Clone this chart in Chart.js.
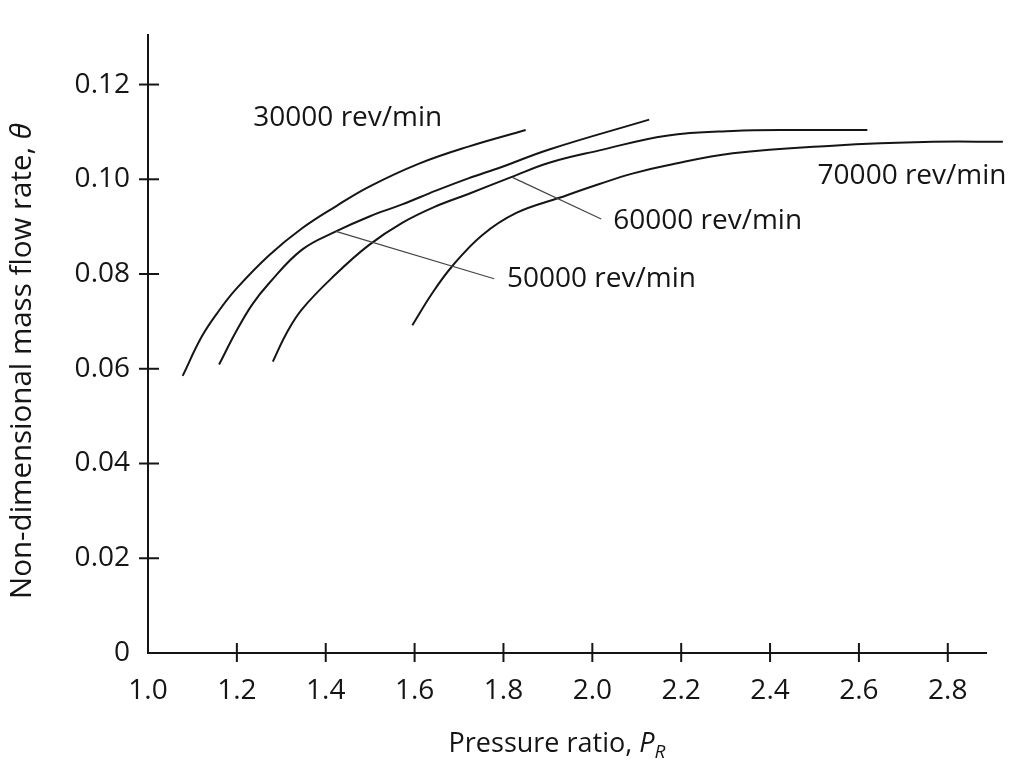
<!DOCTYPE html>
<html lang="en">
<head>
<meta charset="UTF-8">
<title>Non-dimensional mass flow rate vs pressure ratio</title>
<script src="https://cdn.jsdelivr.net/npm/chart.js"></script>
<style>
  html, body { margin: 0; padding: 0; background: #fff; }
  #wrap { width: 1012px; height: 763px; }
</style>
</head>
<body>
<div id="wrap"><canvas id="chart"></canvas></div>
<script>
// axis ticks
const xTicks = [1.0, 1.2, 1.4, 1.6, 1.8, 2.0, 2.2, 2.4, 2.6, 2.8];
const yTicks = [0, 0.02, 0.04, 0.06, 0.08, 0.10, 0.12];

// pressure ratio / mass flow pairs
const pr30 = [1.078, 1.121, 1.160, 1.198, 1.272, 1.346, 1.423, 1.497, 1.610, 1.721, 1.850];
const mf30 = [0.0585, 0.0668, 0.0723, 0.0768, 0.0839, 0.0896, 0.0943, 0.0984, 0.1033, 0.1069, 0.1104];

const pr50 = [1.160, 1.198, 1.234, 1.272, 1.346, 1.423, 1.497, 1.572, 1.648, 1.721, 1.796, 1.903, 2.128];
const mf50 = [0.0609, 0.0678, 0.0735, 0.0780, 0.0851, 0.0890, 0.0921, 0.0947, 0.0976, 0.1002, 0.1026, 0.1063, 0.1126];

const pr60 = [1.281, 1.310, 1.346, 1.423, 1.497, 1.572, 1.648, 1.721, 1.816, 1.903, 2.016, 2.167, 2.316, 2.466, 2.619];
const mf60 = [0.0615, 0.0672, 0.0725, 0.0800, 0.0861, 0.0908, 0.0943, 0.0969, 0.1004, 0.1035, 0.1061, 0.1092, 0.1102, 0.1104, 0.1104];

const pr70 = [1.595, 1.640, 1.685, 1.752, 1.829, 1.926, 2.016, 2.090, 2.167, 2.316, 2.541, 2.766, 2.924];
const mf70 = [0.0692, 0.0760, 0.0817, 0.0882, 0.0929, 0.0961, 0.0990, 0.1012, 0.1029, 0.1055, 0.1071, 0.1079, 0.1079];

// curve labels (left edge, middle) and leader lines, in data units
const curveLabels = [
  { text: '30000 rev/min', x: 1.237, y: 0.1130 },
  { text: '70000 rev/min', x: 2.507, y: 0.1006 },
  { text: '60000 rev/min', x: 2.047, y: 0.0912 },
  { text: '50000 rev/min', x: 1.808, y: 0.0790 }
];
const leaders = [
  { x1: 1.820, y1: 0.1004, x2: 2.020, y2: 0.0916 },
  { x1: 1.423, y1: 0.0890, x2: 1.779, y2: 0.0790 }
];

const ink = '#151515';
const family = '"Open Sans", sans-serif';
const fontSize = 28;

function series(xs, ys) {
  return xs.map((x, i) => ({ x: x, y: ys[i] }));
}
function curve(label, xs, ys) {
  return {
    label: label,
    data: series(xs, ys),
    borderColor: ink,
    borderWidth: 2,
    pointRadius: 0,
    fill: false,
    tension: 0.4,
    clip: false
  };
}

const decor = {
  id: 'decor',
  afterDraw(chart) {
    const c = chart.ctx;
    const xs = chart.scales.x, ys = chart.scales.y;
    const area = chart.chartArea;
    c.save();
    c.strokeStyle = ink;
    c.lineWidth = 2;
    // tick marks crossing the axes
    xTicks.slice(1).forEach(v => {
      const px = xs.getPixelForValue(v);
      c.beginPath(); c.moveTo(px, area.bottom - 10); c.lineTo(px, area.bottom + 9); c.stroke();
    });
    yTicks.slice(1).forEach(v => {
      const py = ys.getPixelForValue(v);
      c.beginPath(); c.moveTo(area.left - 9, py); c.lineTo(area.left + 11, py); c.stroke();
    });
    // leader lines
    c.strokeStyle = '#444';
    c.lineWidth = 1.2;
    leaders.forEach(l => {
      c.beginPath();
      c.moveTo(xs.getPixelForValue(l.x1), ys.getPixelForValue(l.y1));
      c.lineTo(xs.getPixelForValue(l.x2), ys.getPixelForValue(l.y2));
      c.stroke();
    });
    // curve labels
    c.fillStyle = ink;
    c.font = fontSize + 'px ' + family;
    c.textAlign = 'left';
    c.textBaseline = 'middle';
    curveLabels.forEach(t => {
      c.fillText(t.text, xs.getPixelForValue(t.x), ys.getPixelForValue(t.y));
    });
    // x title: Pressure ratio, P_R
    c.textBaseline = 'alphabetic';
    const plain = 'Pressure ratio, ';
    const regular = '27px ' + family;
    const italic = 'italic 27px ' + family;
    const subFont = 'italic 19px ' + family;
    c.font = regular; const w1 = c.measureText(plain).width;
    c.font = italic; const w2 = c.measureText('P').width;
    c.font = subFont; const w3 = c.measureText('R').width;
    let tx = (area.left + area.right) / 2 - 10 - (w1 + w2 + w3) / 2;
    const tb = 752;
    c.font = regular; c.fillText(plain, tx, tb); tx += w1;
    c.font = italic; c.fillText('P', tx, tb); tx += w2;
    c.font = subFont; c.fillText('R', tx, tb + 6);
    // y title, rotated
    const ytext = 'Non-dimensional mass flow rate, ';
    const yFont = '29.5px ' + family;
    const yItalic = 'italic 29.5px ' + family;
    c.font = yFont; const v1 = c.measureText(ytext).width;
    c.font = yItalic; const v2 = c.measureText('\u03b8').width;
    c.translate(31, 361);
    c.rotate(-Math.PI / 2);
    let ty = -(v1 + v2) / 2;
    c.font = yFont; c.fillText(ytext, ty, 0); ty += v1;
    c.font = yItalic; c.fillText('\u03b8', ty, 0);
    c.restore();
  }
};

new Chart(document.getElementById('chart').getContext('2d'), {
  type: 'line',
  data: {
    datasets: [
      curve('30000 rev/min', pr30, mf30),
      curve('50000 rev/min', pr50, mf50),
      curve('60000 rev/min', pr60, mf60),
      curve('70000 rev/min', pr70, mf70)
    ]
  },
  options: {
    responsive: true,
    maintainAspectRatio: false,
    animation: false,
    layout: { padding: { top: 12, right: 26, left: 0, bottom: 0 } },
    plugins: { legend: { display: false }, tooltip: { enabled: false } },
    scales: {
      x: {
        type: 'linear',
        min: 1.0,
        max: 2.886,
        afterFit: s => { s.height = 110; },
        afterBuildTicks: s => { s.ticks = xTicks.map(v => ({ value: v })); },
        grid: { display: false, drawTicks: false },
        border: { color: ink, width: 2 },
        ticks: {
          color: ink,
          font: { family: family, size: fontSize },
          padding: 21,
          maxRotation: 0,
          autoSkip: false,
          callback: v => v.toFixed(1)
        }
      },
      y: {
        type: 'linear',
        min: 0,
        max: 0.1305,
        afterFit: s => { s.width = 148; },
        afterBuildTicks: s => { s.ticks = yTicks.map(v => ({ value: v })); },
        grid: { display: false, drawTicks: false },
        border: { color: ink, width: 2 },
        ticks: {
          color: ink,
          font: { family: family, size: fontSize },
          padding: 18,
          autoSkip: false,
          callback: v => v === 0 ? '0' : v.toFixed(2)
        }
      }
    }
  },
  plugins: [decor]
});
</script>
</body>
</html>
